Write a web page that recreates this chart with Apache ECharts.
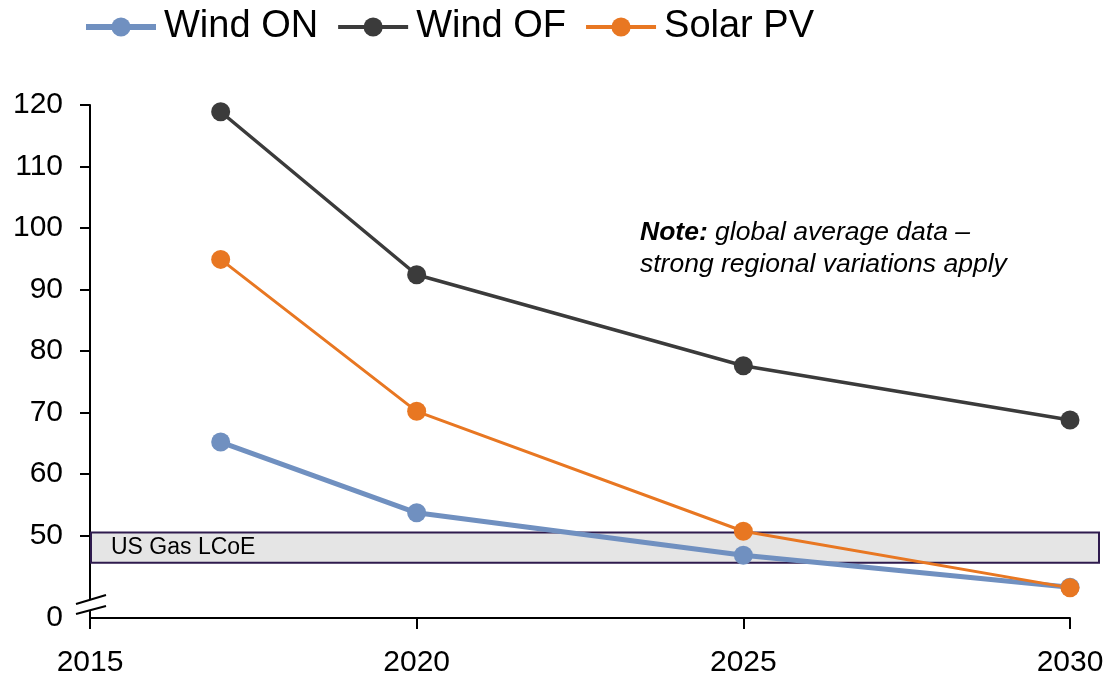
<!DOCTYPE html>
<html>
<head>
<meta charset="utf-8">
<script src="https://cdn.jsdelivr.net/npm/echarts@6/dist/echarts.min.js"></script>
<style>
  html, body { margin: 0; padding: 0; background: #fff; }
  #chart { width: 1110px; height: 681px; }
</style>
</head>
<body>
<div id="chart"></div>
<script>
// LCoE outlook by technology
const years = [2017, 2020, 2025, 2030];
const windOn = [65.2, 53.7, 46.8, 41.6];
const windOf = [118.9, 92.4, 77.6, 68.8];
const solarPv = [94.9, 70.2, 50.7, 41.5];
const yTickValues = [50, 60, 70, 80, 90, 100, 110, 120];
const axisFloor = 36.6;          // value at the bottom of the broken axis, labelled "0"
const gasLcoe = [45.6, 50.5];    // US gas LCoE band (low, high)
const gasLabel = 'US Gas LCoE';

const FONT = '"Liberation Sans", Arial, Helvetica, sans-serif';
const colors = { on: '#7090c0', of: '#3b3b3b', pv: '#e87722' };
const widths = { on: 5, of: 3.5, pv: 3 };

const chart = echarts.init(document.getElementById('chart'), null, { renderer: 'canvas' });

function series(name, values, color, width) {
  return {
    name: name,
    type: 'line',
    data: years.map((y, i) => [y, values[i]]),
    symbol: 'circle',
    symbolSize: 19,
    lineStyle: { color: color, width: width },
    itemStyle: { color: color },
    z: 3
  };
}

chart.setOption({
  animation: false,
  backgroundColor: '#fff',
  textStyle: { fontFamily: FONT },
  grid: { left: 90, right: 40, top: 105, bottom: 63 },
  legend: {
    left: 78,
    top: 3,
    itemWidth: 70,
    itemHeight: 24,
    itemGap: 18,
    textStyle: { fontSize: 38, color: '#000', fontFamily: FONT, padding: [0, 0, 0, 3] },
    data: [
      { name: 'Wind ON', lineStyle: { width: 6 } },
      { name: 'Wind OF', lineStyle: { width: 4 } },
      { name: 'Solar PV', lineStyle: { width: 4 } }
    ]
  },
  xAxis: {
    type: 'value',
    min: 2015,
    max: 2030,
    interval: 5,
    axisLine: { show: true, lineStyle: { color: '#000', width: 2 } },
    axisTick: { show: true, length: 11, lineStyle: { color: '#000', width: 2 } },
    splitLine: { show: false },
    axisLabel: { fontSize: 30, color: '#000', margin: 30, fontFamily: FONT, formatter: v => String(v) }
  },
  yAxis: {
    type: 'value',
    min: axisFloor,
    max: 120,
    axisLine: { show: true, lineStyle: { color: '#000', width: 2 } },
    axisTick: { show: true, length: 10, customValues: yTickValues, lineStyle: { color: '#000', width: 2 } },
    splitLine: { show: false },
    axisLabel: {
      fontSize: 30, color: '#000', margin: 27, fontFamily: FONT,
      customValues: [axisFloor].concat(yTickValues),
      formatter: v => (Math.abs(v - axisFloor) < 1e-6 ? '0' : String(v))
    }
  },
  series: [
    series('Wind ON', windOn, colors.on, widths.on),
    series('Wind OF', windOf, colors.of, widths.of),
    series('Solar PV', solarPv, colors.pv, widths.pv)
  ]
});

// Gas band, axis break mark and note, placed from the axis scales
const ax = chart.convertToPixel({ xAxisIndex: 0 }, 2015);
const axEnd = chart.convertToPixel({ xAxisIndex: 0 }, 2030);
const yFloor = chart.convertToPixel({ yAxisIndex: 0 }, axisFloor);
const yHi = chart.convertToPixel({ yAxisIndex: 0 }, gasLcoe[1]);
const yLo = chart.convertToPixel({ yAxisIndex: 0 }, gasLcoe[0]);

chart.setOption({
  graphic: [
    {
      type: 'rect', z: 1, silent: true,
      shape: { x: ax + 1, y: yHi, width: axEnd + 29 - (ax + 1), height: yLo - yHi },
      style: { fill: '#e5e5e5', stroke: '#2f1b4e', lineWidth: 2 }
    },
    {
      type: 'text', z: 1, silent: true,
      x: ax + 21, y: (yHi + yLo) / 2,
      style: { text: gasLabel, fontSize: 23, fontFamily: FONT, fill: '#000', verticalAlign: 'middle' }
    },
    {
      type: 'polygon', z: 5, silent: true,
      shape: { points: [[ax - 6, yFloor - 16], [ax + 6, yFloor - 20], [ax + 6, yFloor - 9], [ax - 6, yFloor - 5]] },
      style: { fill: '#fff' }
    },
    {
      type: 'line', z: 6, silent: true,
      shape: { x1: ax - 14, y1: yFloor - 14, x2: ax + 16, y2: yFloor - 23 },
      style: { stroke: '#000', lineWidth: 2 }
    },
    {
      type: 'line', z: 6, silent: true,
      shape: { x1: ax - 14, y1: yFloor - 4, x2: ax + 16, y2: yFloor - 12 },
      style: { stroke: '#000', lineWidth: 2 }
    },
    {
      type: 'text', z: 4, silent: true,
      x: 640, y: 233,
      style: {
        text: '{b|Note:} global average data –',
        fontSize: 26.5, fontStyle: 'italic', fontFamily: FONT, fill: '#000', verticalAlign: 'middle',
        rich: { b: { fontSize: 26.5, fontStyle: 'italic', fontWeight: 'bold', fontFamily: FONT, fill: '#000' } }
      }
    },
    {
      type: 'text', z: 4, silent: true,
      x: 640, y: 265,
      style: {
        text: 'strong regional variations apply',
        fontSize: 26.5, fontStyle: 'italic', fontFamily: FONT, fill: '#000', verticalAlign: 'middle'
      }
    }
  ]
});
</script>
</body>
</html>
